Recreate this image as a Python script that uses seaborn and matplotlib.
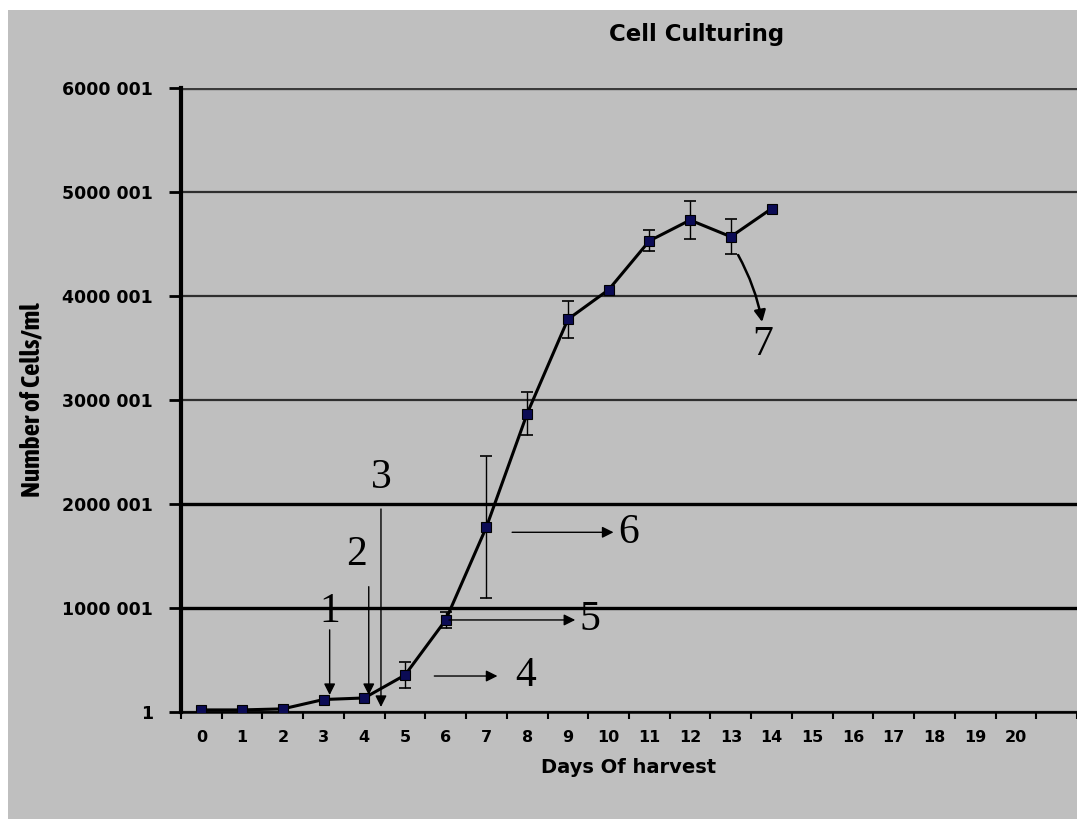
import matplotlib
matplotlib.use("Agg")
import matplotlib.pyplot as plt
from matplotlib.patches import Rectangle
import seaborn as sns
import pandas as pd
import numpy as np

# Growth curve: mean cell density per harvest day with error bars
days = [0, 1, 2, 3, 4, 5, 6, 7, 8, 9, 10, 11, 12, 13, 14]
cells = [20000, 20000, 30000, 120000, 135000, 355000, 885000, 1780000,
         2870000, 3776000, 4060000, 4530000, 4730000, 4570000, 4840000]
errors = [0, 0, 0, 0, 0, 125000, 80000, 680000,
          205000, 180000, 0, 100000, 180000, 170000, 0]

day_labels = [str(d) for d in range(21)]
y_ticks = [1, 1000001, 2000001, 3000001, 4000001, 5000001, 6000001]
y_tick_labels = ["1", "1000 001", "2000 001", "3000 001",
                 "4000 001", "5000 001", "6000 001"]

# Numbered stage annotations: (label, text position, arrow start, arrow tip)
stage_labels = ["1", "2", "3", "4", "5", "6", "7"]
stage_text_xy = [(3.15, 960000), (3.80, 1510000), (4.41, 2250000),
                 (7.96, 346000), (9.55, 885000), (10.49, 1728000),
                 (13.79, 3530000)]
stage_arrow_from = [(3.15, 790000), (4.11, 1205000), (4.41, 1952000),
                    (5.72, 346000), (6.08, 885000), (7.63, 1728000),
                    (13.18, 4394000)]
stage_arrow_to = [(3.15, 163000), (4.11, 163000), (4.41, 48000),
                  (7.27, 346000), (9.18, 885000), (10.12, 1728000),
                  (13.77, 3750000)]

BG = "#bfbfbf"

sns.set_theme(style="white")
plt.rcParams["font.family"] = ["DejaVu Sans"]

W, H = 1077, 819
fig = plt.figure(figsize=(W / 100, H / 100), dpi=100, facecolor="white")
fig.patches.append(Rectangle((8 / W, 0), 1, 1 - 10 / H, transform=fig.transFigure,
                             facecolor=BG, edgecolor="none", zorder=-10))

left_px, right_px, top_px, bottom_px = 181, 1077, 88, 712
ax = fig.add_axes([left_px / W, 1 - bottom_px / H,
                   (right_px - left_px) / W, (bottom_px - top_px) / H])
ax.set_facecolor(BG)

df = pd.DataFrame({"day": days, "cells": cells, "err": errors})

sns.lineplot(data=df, x="day", y="cells", ax=ax, color="black", linewidth=2.2,
             marker="s", markersize=7, markerfacecolor="#0b0b55",
             markeredgecolor="black", markeredgewidth=0.8, zorder=5)

with_err = df[df["err"] > 0]
ax.errorbar(with_err["day"], with_err["cells"], yerr=with_err["err"], fmt="none",
            ecolor="black", elinewidth=1.0, capsize=4, capthick=1.2, zorder=4)

ax.set_xlim(-0.5, 21.43)
ax.set_ylim(1, 6000001)

# Category-style x axis: labels at each day, tick marks between days
ax.set_xticks(range(len(day_labels)))
ax.set_xticklabels(day_labels, fontsize=11.5, fontweight="bold", color="black")
ax.set_xticks(np.arange(-0.5, 21.6, 1.0), minor=True)
ax.tick_params(axis="x", which="major", length=0, pad=13)
ax.tick_params(axis="x", which="minor", length=5, width=1.5, color="black",
               direction="out", bottom=True)

ax.set_yticks(y_ticks)
ax.set_yticklabels(y_tick_labels, fontsize=12.5, fontweight="bold", color="black")
ax.tick_params(axis="y", which="major", length=9, width=2, color="black",
               direction="out", left=True, pad=11)

ax.yaxis.grid(True, color="#2e2e2e", linewidth=1.6)
ax.xaxis.grid(False)
gl = ax.yaxis.get_gridlines()
for i, line in enumerate(gl):
    if y_ticks[i] in (1000001, 2000001):
        line.set_color("black")
        line.set_linewidth(2.4)
    if y_ticks[i] == 6000001:
        line.set_linewidth(2.4)
        line.set_color("#3a3a3a")

for side in ("top", "right"):
    ax.spines[side].set_visible(False)
ax.spines["left"].set_color("black")
ax.spines["left"].set_linewidth(3)
ax.spines["bottom"].set_color("black")
ax.spines["bottom"].set_linewidth(1.8)

ax.set_xlabel("Days Of harvest", fontsize=14, fontweight="bold", color="black",
              labelpad=9)
ax.set_ylabel("Number of Cells/ml", fontsize=19.5, fontweight="bold", color="black",
              family=["Asap Condensed", "DejaVu Sans"])
ax.yaxis.set_label_coords((45 - left_px) / (right_px - left_px), 0.5)

fig.text(697 / W, 1 - 34 / H, "Cell Culturing", ha="center", va="center",
         fontsize=16.5, fontweight="bold", color="black")

# Stage markers
for i, lab in enumerate(stage_labels):
    conn = "arc3,rad=-0.08" if lab == "7" else "arc3,rad=0"
    lw = 1.8 if lab == "7" else 1.0
    ax.annotate("", xy=stage_arrow_to[i], xytext=stage_arrow_from[i],
                arrowprops=dict(arrowstyle="-|>", color="black", lw=lw,
                                mutation_scale=17, shrinkA=0, shrinkB=0,
                                connectionstyle=conn),
                zorder=6)
    ax.text(stage_text_xy[i][0], stage_text_xy[i][1], lab, ha="center",
            va="center", fontsize=30, family=["Liberation Serif", "DejaVu Serif"],
            color="black", zorder=6)

fig.savefig("out.png", dpi=100, facecolor="white")
